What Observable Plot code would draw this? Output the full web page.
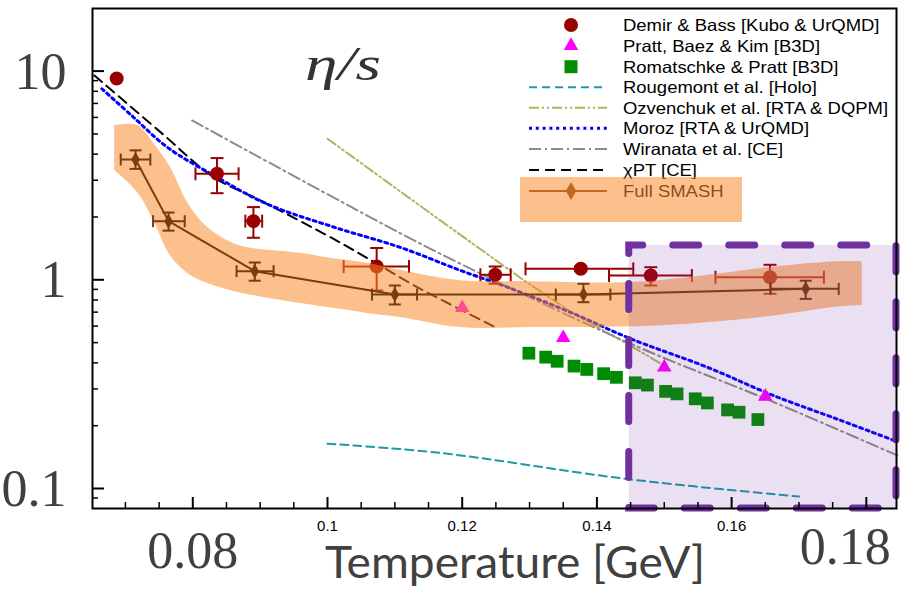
<!DOCTYPE html>
<html><head><meta charset="utf-8">
<script src="https://cdn.jsdelivr.net/npm/d3@7"></script>
<script src="https://cdn.jsdelivr.net/npm/@observablehq/plot@0.6"></script>
<style>body{margin:0;background:#fff}</style>
</head><body><div id="chart"></div>
<script>
// ---------- data ----------
const demirT   = [0.0687, 0.0836, 0.0890, 0.1073, 0.1249, 0.1376, 0.1480, 0.1657];
const demirV   = [9.21, 3.22, 1.91, 1.158, 1.057, 1.129, 1.048, 1.029];
const demirTlo = [null, 0.0804, 0.0878, 0.1024, 0.1227, 0.1294, 0.1418, 0.1576];
const demirThi = [null, 0.0868, 0.0903, 0.1121, 0.1272, 0.1454, 0.1541, 0.1737];
const demirVlo = [null, 2.60, 1.59, 0.889, 0.957, 1.10, 0.939, 0.857];
const demirVhi = [null, 3.83, 2.23, 1.42, 1.158, 1.16, 1.149, 1.18];

const prattT = [0.120, 0.135, 0.150, 0.165];
const prattV = [0.734, 0.527, 0.381, 0.276];

const romT = [0.1299, 0.1324, 0.1341, 0.1366, 0.1385, 0.1410, 0.1429, 0.1457, 0.1475, 0.1502, 0.1519, 0.1546, 0.1564, 0.1594, 0.1611, 0.1639];
const romV = [0.445, 0.426, 0.407, 0.386, 0.372, 0.355, 0.341, 0.321, 0.313, 0.292, 0.284, 0.269, 0.257, 0.238, 0.232, 0.214];

const rougT = [0.100, 0.1168, 0.1445, 0.170];
const rougV = [0.164, 0.148, 0.111, 0.0915];

const ozvT = [0.100, 0.1168, 0.1292, 0.1366, 0.1445, 0.1504];
const ozvV = [4.74, 1.92, 0.992, 0.687, 0.494, 0.381];

const morozT = [0.0665, 0.0712, 0.0762, 0.0836, 0.0910, 0.1009, 0.1108, 0.1197, 0.1267, 0.1366, 0.1450, 0.1564, 0.1662, 0.1762, 0.1841];
const morozV = [8.23, 6.01, 4.32, 3.10, 2.31, 1.79, 1.43, 1.11, 0.922, 0.687, 0.522, 0.381, 0.279, 0.212, 0.170];

const wirT = [0.0799, 0.1004, 0.1168, 0.1450, 0.1663, 0.1846];
const wirV = [5.80, 2.53, 1.33, 0.494, 0.259, 0.144];

const chiT = [0.0654, 0.0752, 0.0831, 0.0896, 0.1009, 0.1074, 0.1133, 0.1168, 0.1249];
const chiV = [9.53, 5.10, 3.10, 2.44, 1.57, 1.19, 0.922, 0.805, 0.593];

const smashT   = [0.0715, 0.0764, 0.0892, 0.1100, 0.1380, 0.1710];
const smashV   = [3.77, 1.91, 1.10, 0.850, 0.850, 0.905];
const smashTlo = [0.0693, 0.0741, 0.0865, 0.1066, 0.1339, 0.1658];
const smashThi = [0.0737, 0.0788, 0.0920, 0.1133, 0.1420, 0.1759];
const smashVlo = [3.40, 1.72, 0.99, 0.762, 0.781, 0.81];
const smashVhi = [4.17, 2.10, 1.21, 0.939, 0.957, 0.99];

const bandT  = [0.0684, 0.0718, 0.0742, 0.0767, 0.0793, 0.0822, 0.0861, 0.0891, 0.0960, 0.1009, 0.1059, 0.1108, 0.1197, 0.1301, 0.1450, 0.1554, 0.1662, 0.1757, 0.1794];
const bandHi = [5.49, 5.49, 4.50, 3.45, 2.32, 1.78, 1.49, 1.41, 1.34, 1.26, 1.20, 1.11, 0.99, 0.98, 0.97, 1.04, 1.15, 1.22, 1.22];
const bandLo = [3.34, 2.62, 1.92, 1.30, 1.07, 0.96, 0.88, 0.84, 0.77, 0.73, 0.69, 0.66, 0.59, 0.59, 0.595, 0.62, 0.67, 0.74, 0.753];

const boxT = [0.1448, 0.18448];   // highlighted region
const boxV = [0.0802, 1.46];

const xMajor = [0.08, 0.10, 0.12, 0.14, 0.16, 0.18];
const xMinor = [0.07, 0.075, 0.085, 0.09, 0.095, 0.105, 0.11, 0.115, 0.125, 0.13, 0.135, 0.145, 0.15, 0.155, 0.165, 0.17, 0.175];
const xSmallLabels = [0.10, 0.12, 0.14, 0.16];
const yMajor = [0.1, 1, 10];
const yMinor = [0.09, 0.2, 0.3, 0.4, 0.5, 0.6, 0.7, 0.8, 0.9, 2, 3, 4, 5, 6, 7, 8, 9];

const legendNames = ["Demir & Bass [Kubo & UrQMD]", "Pratt, Baez & Kim [B3D]", "Romatschke & Pratt [B3D]",
  "Rougemont et al. [Holo]", "Ozvenchuk et al. [RTA & DQPM]", "Moroz [RTA & UrQMD]", "Wiranata et al. [CE]", "χPT [CE]", "Full SMASH"];

// ---------- styles ----------
const C = {demir:"#990000", pratt:"#ff00ff", rom:"#008c00", rou:"#1e9aa2", ozv:"#b3b35a", moroz:"#0000ff", wir:"#8c8c8c", chi:"#000000", smash:"#7a3e0e", band:"#f98c2e", box:"#7030a0"};
const S = {
  rou:  {stroke:C.rou, strokeWidth:2, strokeDasharray:"8,5"},
  ozv:  {stroke:C.ozv, strokeWidth:2, strokeDasharray:"10,3,2,3,2,3"},
  moroz:{stroke:C.moroz, strokeWidth:3, strokeDasharray:"3,3.8"},
  wir:  {stroke:C.wir, strokeWidth:2, strokeDasharray:"12,4,2,4"},
  chi:  {stroke:C.chi, strokeWidth:2, strokeDasharray:"10,6"}
};
const serif = "'Liberation Serif', 'Times New Roman', serif";

const hcap = {draw(ctx, size){const r=Math.sqrt(size/Math.PI); ctx.moveTo(-r,0); ctx.lineTo(r,0);}};
const vcap = {draw(ctx, size){const r=Math.sqrt(size/Math.PI); ctx.moveTo(0,-r); ctx.lineTo(0,r);}};
const diamond = {draw(ctx, size){const r=Math.sqrt(size/Math.PI); ctx.moveTo(0,-r); ctx.lineTo(r*0.58,0); ctx.lineTo(0,r); ctx.lineTo(-r*0.58,0); ctx.closePath();}};

const zip = (T, V) => T.map((t,i)=>({T:t, v:V[i]}));
const demir = demirT.map((t,i)=>({T:t, v:demirV[i], tlo:demirTlo[i], thi:demirThi[i], vlo:demirVlo[i], vhi:demirVhi[i]}));
const demirErr = demir.filter(d => d.tlo != null);
const smash = smashT.map((t,i)=>({T:t, v:smashV[i], tlo:smashTlo[i], thi:smashThi[i], vlo:smashVlo[i], vhi:smashVhi[i]}));
const band = bandT.map((t,i)=>({T:t, lo:bandLo[i], hi:bandHi[i]}));
const box = [{x1:boxT[0], x2:boxT[1], y1:boxV[0], y2:boxV[1]}];

const W = 904, H = 592, mL = 92, mR = 8, mT = 8, mB = 84;
const innerW = W - mL - mR, innerH = H - mT - mB;

function errMarks(data, color, capR) {
  return [
    Plot.ruleX(data, {x:"T", y1:"vlo", y2:"vhi", stroke:color, strokeWidth:2}),
    Plot.ruleY(data, {y:"v", x1:"tlo", x2:"thi", stroke:color, strokeWidth:2}),
    Plot.dot(data, {x:"T", y:"vlo", symbol:hcap, r:capR, stroke:color, strokeWidth:2, fill:"none"}),
    Plot.dot(data, {x:"T", y:"vhi", symbol:hcap, r:capR, stroke:color, strokeWidth:2, fill:"none"}),
    Plot.dot(data, {x:"tlo", y:"v", symbol:vcap, r:capR, stroke:color, strokeWidth:2, fill:"none"}),
    Plot.dot(data, {x:"thi", y:"v", symbol:vcap, r:capR, stroke:color, strokeWidth:2, fill:"none"})
  ];
}

const chart = Plot.plot({
  width: W, height: H,
  marginLeft: mL, marginRight: mR, marginTop: mT, marginBottom: mB,
  style: {background:"white", fontFamily:"'Liberation Sans', Arial, sans-serif", overflow:"visible"},
  x: {domain:[0.06511, 0.18448]},
  y: {type:"log", domain:[0.0802, 19.95], axis:null},
  marks: [
    Plot.line(zip(rougT, rougV), {x:"T", y:"v", ...S.rou, curve:"catmull-rom"}),
    Plot.line(zip(ozvT, ozvV), {x:"T", y:"v", ...S.ozv}),
    Plot.line(zip(wirT, wirV), {x:"T", y:"v", ...S.wir, curve:"catmull-rom"}),
    Plot.line(zip(chiT, chiV), {x:"T", y:"v", ...S.chi, curve:"catmull-rom"}),
    Plot.line(zip(morozT, morozV), {x:"T", y:"v", ...S.moroz, curve:"catmull-rom"}),
    Plot.dot(zip(romT, romV), {x:"T", y:"v", symbol:"square", r:7.2, fill:C.rom}),
    Plot.dot(zip(prattT, prattV), {x:"T", y:"v", symbol:"triangle", r:5.4, fill:C.pratt}),
    ...errMarks(demirErr, C.demir, 6.5),
    Plot.dot(demir, {x:"T", y:"v", r:7, fill:C.demir}),
    Plot.areaY(band, {x:"T", y1:"lo", y2:"hi", fill:C.band, fillOpacity:0.55, curve:"catmull-rom"}),
    Plot.line(smash, {x:"T", y:"v", stroke:C.smash, strokeWidth:2}),
    ...errMarks(smash, C.smash, 6),
    Plot.dot(smash, {x:"T", y:"v", symbol:diamond, r:7.5, fill:C.smash}),
    Plot.rect(box, {x1:"x1", x2:"x2", y1:"y1", y2:"y2", fill:C.box, fillOpacity:0.15}),
    Plot.rect(box, {x1:"x1", x2:"x2", y1:"y1", y2:"y2", fill:"none", stroke:C.box, strokeWidth:7, strokeDasharray:"26,30", strokeDashoffset:12, strokeLinecap:"round"}),
    Plot.frame({stroke:"black", strokeWidth:2}),
    Plot.tickX(xMajor, {x:d=>d, insetTop: innerH - 11, stroke:"black", strokeWidth:2}),
    Plot.tickX(xMinor, {x:d=>d, insetTop: innerH - 6, stroke:"black", strokeWidth:1.5}),
    Plot.tickY(yMajor, {y:d=>d, insetRight: innerW - 12, stroke:"black", strokeWidth:2}),
    Plot.tickY(yMinor, {y:d=>d, insetRight: innerW - 6, stroke:"black", strokeWidth:1.5}),
    Plot.axisX(xSmallLabels, {tickSize:0, tickPadding:12, fontSize:15, fill:"black", tickFormat:d => d === 0.1 ? "0.1" : d.toFixed(2)}),
    Plot.text(yMajor, {y:d=>d, text:d => String(d), frameAnchor:"left", textAnchor:"end", dx:-26, dy:1, fontSize:52, fill:"#404040", fontFamily:serif, lineAnchor:"middle"}),
    Plot.text([0.08], {x:d=>d, text:d => "0.08", frameAnchor:"bottom", dy:43, fontSize:52, fill:"#404040", fontFamily:serif, lineAnchor:"middle"}),
    Plot.text([0.18], {x:d=>d, text:d => "0.18", frameAnchor:"bottom", dx:-21, dy:39, fontSize:52, fill:"#404040", fontFamily:serif, lineAnchor:"middle"})
  ]
});
document.getElementById("chart").appendChild(chart);

// ---------- annotations & legend overlay ----------
const svg = d3.select(chart.tagName.toLowerCase() === "svg" ? chart : chart.querySelector("svg"));
const ov = svg.append("g");
ov.append("text").attr("x", 515).attr("y", 578).attr("text-anchor","middle")
  .attr("font-family","Lato, 'Open Sans', sans-serif").attr("font-size", 44).attr("fill","#404040")
  .attr("textLength", 380).attr("lengthAdjust","spacingAndGlyphs").text("Temperature [GeV]");
ov.append("text").attr("x", 305).attr("y", 80).attr("text-anchor","start")
  .attr("font-family", serif).attr("font-style","italic").attr("font-size", 48).attr("fill","#333")
  .attr("textLength", 76).attr("lengthAdjust","spacingAndGlyphs").text("η/s");

const rows = [25, 45.7, 66.7, 87.3, 107.7, 128.3, 149, 170, 191];
const lx1 = 529, lx2 = 607, sx = 571, tx = 623;
rows.forEach((y, i) => {
  ov.append("text").attr("transform", `translate(${tx},${y}) scale(1.134,1)`).attr("dy","0.36em").attr("text-anchor","start")
    .attr("font-family","'Liberation Sans', Arial, sans-serif").attr("font-size", 16.3).attr("fill","black").text(legendNames[i]);
});
ov.append("circle").attr("cx", sx).attr("cy", rows[0]).attr("r", 7).attr("fill", C.demir);
ov.append("path").attr("transform", `translate(${sx},${rows[1]})`).attr("d", d3.symbol(d3.symbolTriangle, Math.PI*5.4*5.4)()).attr("fill", C.pratt);
ov.append("path").attr("transform", `translate(${sx},${rows[2]})`).attr("d", d3.symbol(d3.symbolSquare, 169)()).attr("fill", C.rom);
const lineKeys = ["rou","ozv","moroz","wir","chi"];
lineKeys.forEach((k, j) => {
  const s = S[k];
  ov.append("line").attr("x1", lx1).attr("x2", lx2).attr("y1", rows[3+j]).attr("y2", rows[3+j])
    .attr("stroke", s.stroke).attr("stroke-width", s.strokeWidth).attr("stroke-dasharray", s.strokeDasharray);
});
ov.append("line").attr("x1", lx1).attr("x2", lx2).attr("y1", rows[8]).attr("y2", rows[8]).attr("stroke", C.smash).attr("stroke-width", 2);
ov.append("path").attr("transform", `translate(${sx},${rows[8]})`).attr("d", d3.symbol(diamond, Math.PI*9*9)()).attr("fill", C.smash);
ov.append("rect").attr("x", 520).attr("y", 177).attr("width", 222).attr("height", 45).attr("fill", C.band).attr("fill-opacity", 0.55);
</script>
</body></html>
